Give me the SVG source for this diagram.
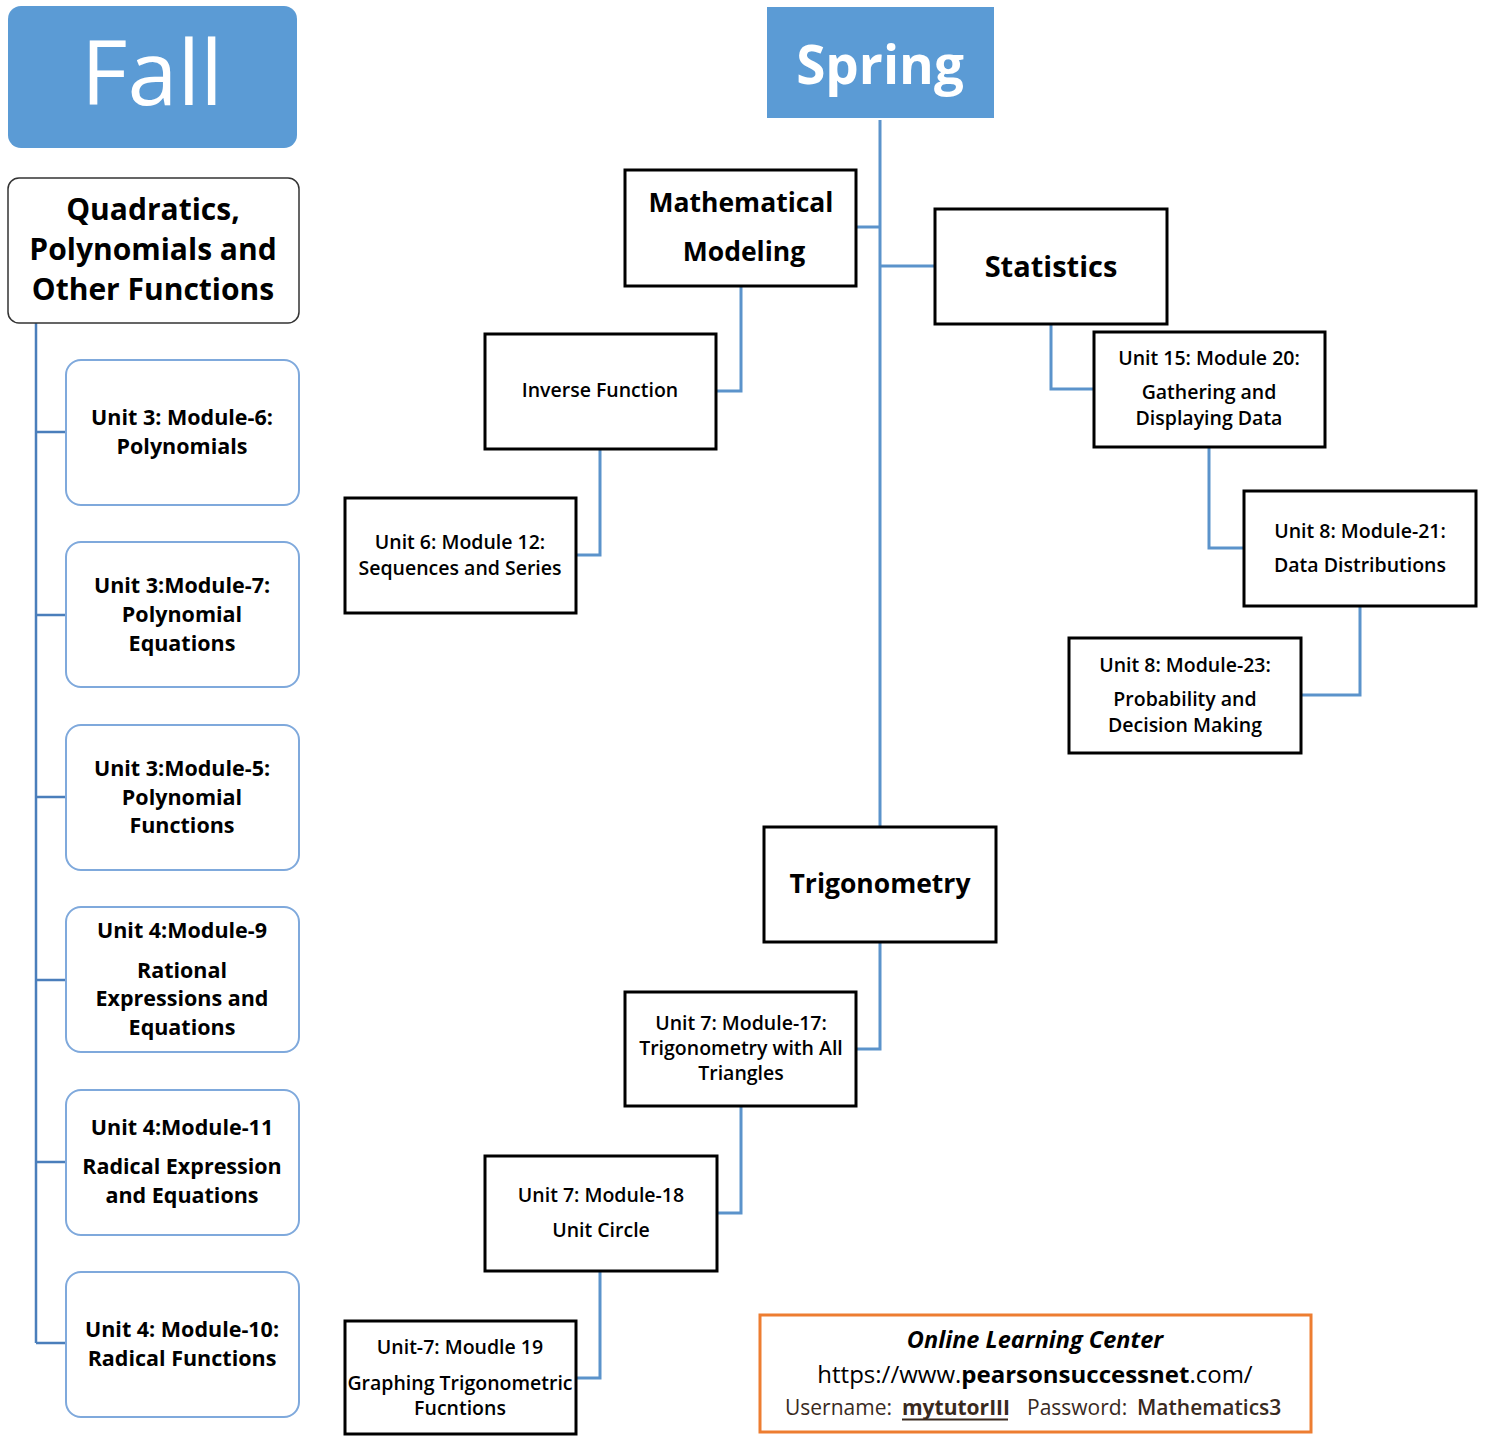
<svg xmlns="http://www.w3.org/2000/svg" width="1486" height="1436" viewBox="0 0 1486 1436">
<style>
  text { font-family: "Open Sans", "Liberation Sans", sans-serif; text-anchor: middle; fill: #000; }
  .lb { font-weight: 700; font-size: 21.5px; }
  .ub { font-weight: 600; font-size: 19.5px; }
  .big { font-weight: 700; font-size: 26.5px; }
  .sq { fill: #fff; stroke: #000; stroke-width: 3; }
  .rnd { fill: #fff; stroke: #7FA9DC; stroke-width: 2; }
  .conn { fill: none; stroke: #5B93CB; stroke-width: 3; }
  .connL { fill: none; stroke: #4A7EBB; stroke-width: 2.5; }
</style>
<rect width="1486" height="1436" fill="#fff"/>

<g id="connectors">
  <path class="connL" d="M36 323 V1343 M36 432 H66 M36 615 H66 M36 797 H66 M36 980 H66 M36 1162 H66 M36 1343 H66"/>
  <path class="conn" d="M880 120 V827"/>
  <path class="conn" d="M856 227 H880"/>
  <path class="conn" d="M880 266 H935"/>
  <path class="conn" d="M741 286 V391 H716"/>
  <path class="conn" d="M600 449 V555 H576"/>
  <path class="conn" d="M1051 324 V389 H1094"/>
  <path class="conn" d="M1209 447 V548 H1244"/>
  <path class="conn" d="M1360 606 V695 H1301"/>
  <path class="conn" d="M880 942 V1049 H856"/>
  <path class="conn" d="M741 1106 V1213 H717"/>
  <path class="conn" d="M600 1271 V1378 H576"/>
</g>

<g id="fall">
  <rect x="8" y="6" width="289" height="142" rx="13" fill="#5B9BD5"/>
  <text x="152" y="105" style="font-size:90px; fill:#fff; font-weight:400">Fall</text>
</g>

<g id="quadratics">
  <rect x="8" y="178" width="291" height="145" rx="11" fill="#fff" stroke="#333" stroke-width="1.5"/>
  <text x="153" y="220" class="lb" style="font-size:30px">Quadratics,</text>
  <text x="153" y="260" class="lb" style="font-size:30px">Polynomials and</text>
  <text x="153" y="300" class="lb" style="font-size:30px">Other Functions</text>
</g>

<g id="u3m6">
  <rect x="66" y="360" width="233" height="145" rx="15" class="rnd"/>
  <text x="182" y="425" class="lb">Unit 3: Module-6:</text>
  <text x="182" y="454" class="lb">Polynomials</text>
</g>
<g id="u3m7">
  <rect x="66" y="542" width="233" height="145" rx="15" class="rnd"/>
  <text x="182" y="593" class="lb">Unit 3:Module-7:</text>
  <text x="182" y="622" class="lb">Polynomial</text>
  <text x="182" y="651" class="lb">Equations</text>
</g>
<g id="u3m5">
  <rect x="66" y="725" width="233" height="145" rx="15" class="rnd"/>
  <text x="182" y="776" class="lb">Unit 3:Module-5:</text>
  <text x="182" y="805" class="lb">Polynomial</text>
  <text x="182" y="833" class="lb">Functions</text>
</g>
<g id="u4m9">
  <rect x="66" y="907" width="233" height="145" rx="15" class="rnd"/>
  <text x="182" y="938" class="lb">Unit 4:Module-9</text>
  <text x="182" y="978" class="lb">Rational</text>
  <text x="182" y="1006" class="lb">Expressions and</text>
  <text x="182" y="1035" class="lb">Equations</text>
</g>
<g id="u4m11">
  <rect x="66" y="1090" width="233" height="145" rx="15" class="rnd"/>
  <text x="182" y="1135" class="lb">Unit 4:Module-11</text>
  <text x="182" y="1174" class="lb">Radical Expression</text>
  <text x="182" y="1203" class="lb">and Equations</text>
</g>
<g id="u4m10">
  <rect x="66" y="1272" width="233" height="145" rx="15" class="rnd"/>
  <text x="182" y="1337" class="lb">Unit 4: Module-10:</text>
  <text x="182" y="1366" class="lb">Radical Functions</text>
</g>

<g id="spring">
  <rect x="767" y="7" width="227" height="111" fill="#5B9BD5"/>
  <text x="880" y="84" style="font-size:53px; fill:#fff; font-weight:700">Spring</text>
</g>

<g id="mathmodel">
  <rect x="625" y="170" width="231" height="116" class="sq"/>
  <text x="741" y="212" class="big">Mathematical</text>
  <text x="744" y="261" class="big">Modeling</text>
</g>
<g id="statistics">
  <rect x="935" y="209" width="232" height="115" class="sq"/>
  <text x="1051" y="277" class="big" style="font-size:29px">Statistics</text>
</g>
<g id="inverse">
  <rect x="485" y="334" width="231" height="115" class="sq"/>
  <text x="600" y="397" class="ub">Inverse Function</text>
</g>
<g id="u6m12">
  <rect x="345" y="498" width="231" height="115" class="sq"/>
  <text x="460" y="549" class="ub">Unit 6: Module 12:</text>
  <text x="460" y="575" class="ub">Sequences and Series</text>
</g>
<g id="u15m20">
  <rect x="1094" y="332" width="231" height="115" class="sq"/>
  <text x="1209" y="365" class="ub">Unit 15: Module 20:</text>
  <text x="1209" y="399" class="ub">Gathering and</text>
  <text x="1209" y="425" class="ub">Displaying Data</text>
</g>
<g id="u8m21">
  <rect x="1244" y="491" width="232" height="115" class="sq"/>
  <text x="1360" y="538" class="ub">Unit 8: Module-21:</text>
  <text x="1360" y="572" class="ub">Data Distributions</text>
</g>
<g id="u8m23">
  <rect x="1069" y="638" width="232" height="115" class="sq"/>
  <text x="1185" y="672" class="ub">Unit 8: Module-23:</text>
  <text x="1185" y="706" class="ub">Probability and</text>
  <text x="1185" y="732" class="ub">Decision Making</text>
</g>
<g id="trig">
  <rect x="764" y="827" width="232" height="115" class="sq"/>
  <text x="880" y="893" class="big">Trigonometry</text>
</g>
<g id="u7m17">
  <rect x="625" y="992" width="231" height="114" class="sq"/>
  <text x="741" y="1030" class="ub">Unit 7: Module-17:</text>
  <text x="741" y="1055" class="ub">Trigonometry with All</text>
  <text x="741" y="1080" class="ub">Triangles</text>
</g>
<g id="u7m18">
  <rect x="485" y="1156" width="232" height="115" class="sq"/>
  <text x="601" y="1202" class="ub">Unit 7: Module-18</text>
  <text x="601" y="1237" class="ub">Unit Circle</text>
</g>
<g id="u7m19">
  <rect x="345" y="1321" width="231" height="113" class="sq"/>
  <text x="460" y="1354" class="ub">Unit-7: Moudle 19</text>
  <text x="460" y="1390" class="ub">Graphing Trigonometric</text>
  <text x="460" y="1415" class="ub">Fucntions</text>
</g>

<g id="online">
  <rect x="760" y="1315" width="551" height="117" fill="#fff" stroke="#ED7D31" stroke-width="3"/>
  <text x="1035" y="1348" style="font-size:23.5px; font-weight:700; font-style:italic">Online Learning Center</text>
  <text x="1035" y="1383" style="font-size:24px">https://www.<tspan font-weight="700">pearsonsuccessnet</tspan>.com/</text>
  <text y="1415" style="font-size:21px; fill:#3A2A1E; text-anchor:start"><tspan x="785">Username:</tspan><tspan x="902" font-weight="700">mytutorIII</tspan><tspan x="1027">Password:</tspan><tspan x="1137" font-weight="600">Mathematics3</tspan></text>
  <line x1="902" y1="1419.5" x2="1008" y2="1419.5" stroke="#3A2A1E" stroke-width="2"/>
</g>
</svg>
